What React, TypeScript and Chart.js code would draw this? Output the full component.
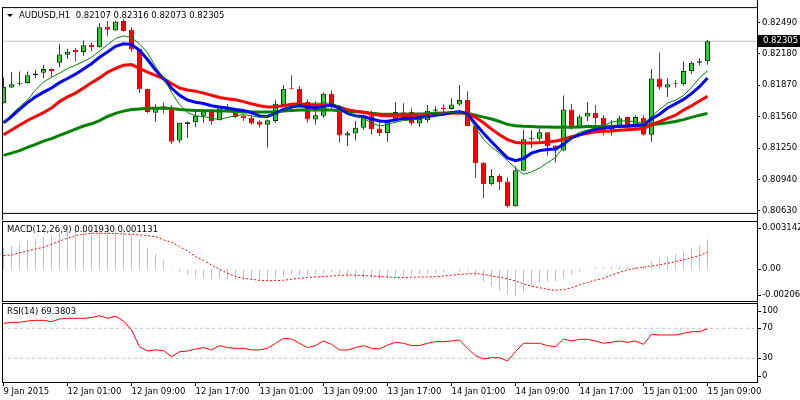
import React, { useEffect, useRef } from 'react';
import { Chart, registerables } from 'chart.js';
Chart.register(...registerables);

// ---------------- DATA ----------------
const symbolTitle = 'AUDUSD,H1';
const opens = [0.81693,0.81849,0.81884,0.81893,0.81968,0.81993,0.82031,0.82093,0.82171,0.82221,
0.82199,0.82268,0.82246,0.82448,0.82411,0.82505,0.82418,0.82230,0.81837,0.81600,
0.81662,0.81643,0.81325,0.81487,0.81506,0.81568,0.81619,0.81525,0.81656,0.81619,
0.81568,0.81549,0.81512,0.81481,0.81518,0.81675,0.81837,0.81837,0.81706,0.81531,
0.81568,0.81787,0.81668,0.81375,0.81394,0.81450,0.81575,0.81443,0.81399,0.81512,
0.81606,0.81606,0.81493,0.81525,0.81619,0.81643,0.81637,0.81680,0.81724,0.81469,
0.81106,0.80894,0.80975,0.80919,0.80675,0.81025,0.81338,0.81343,0.81406,0.81275,
0.81225,0.81631,0.81456,0.81562,0.81600,0.81549,0.81431,0.81462,0.81556,0.81469,
0.81549,0.81381,0.81937,0.81849,0.81886,0.81881,0.82012,0.82093,0.82107];
const highs = [0.81949,0.81999,0.82005,0.82005,0.82024,0.82074,0.82035,0.82274,0.82230,0.82240,
0.82312,0.82293,0.82483,0.82505,0.82505,0.82521,0.82443,0.82230,0.81837,0.81680,
0.81699,0.81675,0.81500,0.81512,0.81612,0.81631,0.81622,0.81656,0.81687,0.81631,
0.81575,0.81581,0.81525,0.81531,0.81724,0.81874,0.81968,0.81862,0.81731,0.81712,
0.81799,0.81818,0.81675,0.81418,0.81518,0.81581,0.81619,0.81531,0.81531,0.81706,
0.81693,0.81643,0.81600,0.81675,0.81662,0.81680,0.81743,0.81874,0.81812,0.81469,
0.81113,0.81044,0.80994,0.80963,0.81069,0.81431,0.81425,0.81443,0.81406,0.81275,
0.81768,0.81687,0.81581,0.81706,0.81675,0.81575,0.81525,0.81568,0.81556,0.81575,
0.81575,0.82031,0.82193,0.81937,0.81924,0.82106,0.82106,0.82137,0.82316];
const lows = [0.81690,0.81843,0.81865,0.81886,0.81943,0.81943,0.81949,0.82049,0.82130,0.82106,
0.82162,0.82205,0.82240,0.82355,0.82405,0.82400,0.82199,0.81793,0.81593,0.81512,
0.81593,0.81287,0.81300,0.81350,0.81456,0.81500,0.81481,0.81525,0.81600,0.81544,
0.81518,0.81481,0.81456,0.81256,0.81500,0.81662,0.81830,0.81680,0.81500,0.81481,
0.81549,0.81619,0.81306,0.81268,0.81325,0.81431,0.81381,0.81369,0.81312,0.81506,
0.81556,0.81474,0.81456,0.81500,0.81581,0.81600,0.81631,0.81668,0.81469,0.80956,
0.80757,0.80882,0.80837,0.80663,0.80670,0.81025,0.81250,0.81312,0.81175,0.81106,
0.81219,0.81431,0.81443,0.81518,0.81462,0.81375,0.81375,0.81443,0.81437,0.81450,
0.81375,0.81312,0.81825,0.81755,0.81849,0.81868,0.81980,0.82068,0.82073];
const closes = [0.81856,0.81881,0.81893,0.81968,0.81987,0.82031,0.82012,0.82174,0.82202,0.82199,
0.82265,0.82246,0.82443,0.82418,0.82499,0.82405,0.82224,0.81830,0.81606,0.81656,
0.81637,0.81312,0.81500,0.81506,0.81568,0.81619,0.81518,0.81656,0.81612,0.81556,
0.81544,0.81493,0.81481,0.81525,0.81687,0.81837,0.81830,0.81687,0.81531,0.81575,
0.81787,0.81656,0.81375,0.81397,0.81450,0.81568,0.81437,0.81399,0.81512,0.81606,
0.81600,0.81493,0.81537,0.81619,0.81631,0.81637,0.81680,0.81724,0.81469,0.81100,
0.80894,0.80975,0.80912,0.80675,0.81031,0.81338,0.81343,0.81406,0.81268,0.81225,
0.81631,0.81462,0.81562,0.81600,0.81544,0.81425,0.81462,0.81544,0.81462,0.81556,
0.81381,0.81937,0.81849,0.81881,0.81881,0.82012,0.82093,0.82107,0.82305];

// moving averages
const maFastThin = [0.81500,0.81584,0.81656,0.81724,0.81824,0.81902,0.81949,0.81990,0.82037,0.82068,
0.82105,0.82146,0.82208,0.82271,0.82333,0.82358,0.82339,0.82280,0.82193,0.82052,
0.81943,0.81802,0.81678,0.81600,0.81568,0.81562,0.81543,0.81531,0.81553,0.81568,
0.81581,0.81568,0.81553,0.81562,0.81584,0.81625,0.81662,0.81687,0.81693,0.81693,
0.81693,0.81696,0.81662,0.81606,0.81562,0.81543,0.81500,0.81468,0.81481,0.81506,
0.81522,0.81528,0.81537,0.81562,0.81581,0.81593,0.81603,0.81609,0.81568,0.81459,
0.81334,0.81262,0.81200,0.81125,0.81053,0.80991,0.81013,0.81053,0.81106,0.81156,
0.81262,0.81356,0.81406,0.81428,0.81450,0.81475,0.81506,0.81518,0.81518,0.81512,
0.81490,0.81562,0.81631,0.81693,0.81724,0.81768,0.81849,0.81943,0.82012];
const maBlue = [0.81500,0.81562,0.81631,0.81699,0.81756,0.81802,0.81843,0.81896,0.81937,0.81980,
0.82030,0.82083,0.82146,0.82199,0.82255,0.82280,0.82274,0.82215,0.82124,0.82021,
0.81937,0.81843,0.81771,0.81724,0.81703,0.81690,0.81668,0.81656,0.81646,0.81631,
0.81621,0.81600,0.81568,0.81562,0.81593,0.81631,0.81656,0.81668,0.81656,0.81646,
0.81662,0.81674,0.81646,0.81593,0.81568,0.81562,0.81537,0.81518,0.81512,0.81531,
0.81543,0.81543,0.81550,0.81562,0.81575,0.81584,0.81600,0.81612,0.81584,0.81490,
0.81397,0.81312,0.81231,0.81153,0.81125,0.81147,0.81200,0.81225,0.81237,0.81240,
0.81287,0.81350,0.81381,0.81412,0.81437,0.81447,0.81456,0.81465,0.81468,0.81475,
0.81481,0.81537,0.81584,0.81646,0.81687,0.81731,0.81787,0.81856,0.81943];
const maRed = [0.81381,0.81428,0.81475,0.81522,0.81562,0.81600,0.81646,0.81709,0.81756,0.81793,
0.81843,0.81896,0.81943,0.81999,0.82037,0.82068,0.82074,0.82037,0.81999,0.81968,
0.81937,0.81887,0.81843,0.81824,0.81812,0.81793,0.81771,0.81749,0.81737,0.81728,
0.81709,0.81687,0.81668,0.81656,0.81659,0.81668,0.81684,0.81687,0.81678,0.81671,
0.81674,0.81671,0.81653,0.81628,0.81615,0.81603,0.81587,0.81575,0.81568,0.81568,
0.81568,0.81568,0.81568,0.81571,0.81581,0.81590,0.81596,0.81600,0.81593,0.81553,
0.81500,0.81437,0.81381,0.81334,0.81306,0.81300,0.81300,0.81303,0.81309,0.81319,
0.81337,0.81362,0.81381,0.81397,0.81412,0.81415,0.81418,0.81425,0.81431,0.81437,
0.81443,0.81481,0.81512,0.81543,0.81575,0.81625,0.81668,0.81715,0.81762];
const maSlowGreen = [0.81178,0.81200,0.81225,0.81256,0.81287,0.81319,0.81344,0.81375,0.81406,0.81437,
0.81468,0.81490,0.81522,0.81562,0.81593,0.81615,0.81631,0.81637,0.81643,0.81643,
0.81643,0.81640,0.81631,0.81625,0.81621,0.81618,0.81618,0.81615,0.81615,0.81612,
0.81606,0.81606,0.81606,0.81606,0.81609,0.81615,0.81621,0.81625,0.81625,0.81625,
0.81628,0.81625,0.81618,0.81612,0.81609,0.81603,0.81593,0.81587,0.81584,0.81584,
0.81584,0.81587,0.81587,0.81590,0.81593,0.81596,0.81600,0.81600,0.81593,0.81575,
0.81556,0.81537,0.81512,0.81484,0.81471,0.81465,0.81462,0.81459,0.81459,0.81456,
0.81456,0.81456,0.81459,0.81462,0.81462,0.81462,0.81465,0.81465,0.81465,0.81468,
0.81468,0.81481,0.81490,0.81500,0.81512,0.81531,0.81553,0.81575,0.81593];

// MACD(12,26,9)
const macdMain = [0.00137,0.00152,0.00169,0.00191,0.00197,0.00212,0.00223,0.00240,0.00249,0.00256,
0.00262,0.00267,0.00271,0.00274,0.00267,0.00256,0.00223,0.00197,0.00141,0.00097,
0.00061,0.00006,-0.00016,-0.00037,-0.00048,-0.00055,-0.00065,-0.00059,-0.00063,-0.00065,
-0.00070,-0.00072,-0.00076,-0.00072,-0.00063,-0.00048,-0.00033,-0.00037,-0.00042,-0.00033,
-0.00026,-0.00020,-0.00037,-0.00055,-0.00059,-0.00059,-0.00055,-0.00063,-0.00059,-0.00048,
-0.00048,-0.00037,-0.00033,-0.00026,-0.00026,-0.00020,-0.00007,-0.00016,-0.00011,-0.00042,
-0.00081,-0.00113,-0.00142,-0.00167,-0.00178,-0.00150,-0.00113,-0.00092,-0.00081,-0.00076,
-0.00055,-0.00037,-0.00016,-0.00002,0.00014,0.00014,0.00018,0.00018,0.00018,0.00018,
0.00024,0.00050,0.00076,0.00083,0.00098,0.00115,0.00137,0.00158,0.001930];
const macdSignal = [0.00089,0.00093,0.00108,0.00119,0.00132,0.00143,0.00163,0.00184,0.00202,0.00219,
0.00228,0.00234,0.00234,0.00234,0.00232,0.00230,0.00228,0.00224,0.00219,0.00212,
0.00191,0.00176,0.00147,0.00119,0.00082,0.00056,0.00028,0.00000,-0.00026,-0.00048,
-0.00059,-0.00065,-0.00072,-0.00074,-0.00074,-0.00072,-0.00065,-0.00059,-0.00054,-0.00050,
-0.00048,-0.00044,-0.00041,-0.00037,-0.00039,-0.00041,-0.00044,-0.00048,-0.00050,-0.00054,
-0.00054,-0.00052,-0.00050,-0.00050,-0.00048,-0.00044,-0.00039,-0.00033,-0.00030,-0.00028,
-0.00033,-0.00044,-0.00052,-0.00063,-0.00076,-0.00096,-0.00109,-0.00120,-0.00131,-0.00137,
-0.00133,-0.00120,-0.00102,-0.00087,-0.00070,-0.00059,-0.00037,-0.00020,-0.00004,0.00006,
0.00013,0.00022,0.00028,0.00039,0.00050,0.00061,0.00076,0.00089,0.001131];

// RSI(14)
const rsiValues = [76.6,78.0,78.0,79.7,80.6,80.6,78.8,82.4,83.3,83.3,
83.3,84.2,86.8,83.3,86.0,79.7,67.7,45.5,39.7,41.1,
40.2,32.2,38.8,39.7,42.4,44.2,41.1,46.9,44.2,43.3,
43.3,41.1,41.1,43.3,50.0,56.6,55.7,50.0,44.2,46.9,
53.1,48.6,41.1,41.1,44.2,46.9,43.3,42.4,47.7,51.3,
50.0,46.9,46.9,50.0,52.2,52.2,53.1,54.4,43.3,33.5,
29.1,30.8,30.8,26.4,38.8,50.0,50.0,50.0,46.9,45.5,
55.7,53.1,55.3,55.3,53.1,50.0,51.3,53.1,51.3,53.1,
48.6,62.0,61.1,61.1,61.1,63.3,65.5,65.5,69.3803];
const rsiLevels = [70, 30];

// axes
const priceTicks = [0.82490, 0.82180, 0.81870, 0.81560, 0.81250, 0.80940, 0.80630];
const timeTickIndex = [0, 8, 16, 24, 32, 40, 48, 56, 64, 72, 80, 88];
const timeTickLabels = ['9 Jan 2015', '12 Jan 01:00', '12 Jan 09:00', '12 Jan 17:00', '13 Jan 01:00',
  '13 Jan 09:00', '13 Jan 17:00', '14 Jan 01:00', '14 Jan 09:00', '14 Jan 17:00', '15 Jan 01:00', '15 Jan 09:00'];
const PRICE_MIN = 0.80610, PRICE_MAX = 0.82642;
const MACD_MIN = -0.002067, MACD_MAX = 0.003142;
const RSI_MIN = -1.6, RSI_MAX = 103.7;
const X_MIN = -0.1875, X_MAX = 94.1875;

// ---------------- STYLE ----------------
const FAMILY = '"DejaVu Sans", sans-serif';
const FSIZE = 8.5;
const CFONT = `${FSIZE}px ${FAMILY}`;
const BULL_FILL = '#32CD32', BULL_EDGE = '#003000', BULL_WICK = '#006400';
const BEAR_FILL = '#FF0000', BEAR_EDGE = '#E00000', BEAR_WICK = '#B22222';
const AXIS_W = 43;

type PanelLabel = { value: number; text: string; dy: number };
type PanelCfg = {
  title: string;
  triangle?: boolean;
  labels?: PanelLabel[];
  priceBox?: number;
  lineFromTop?: boolean;
  lineToBottom?: boolean;
};

function makePanelPlugin(cfg: PanelCfg) {
  return {
    id: 'mt4Panel',
    afterDraw(chart: any) {
      const ctx = chart.ctx as CanvasRenderingContext2D;
      const a = chart.chartArea;
      const ys = chart.scales.y;
      ctx.save();
      ctx.strokeStyle = '#000';
      ctx.lineWidth = 1;
      ctx.strokeRect(a.left + 0.5, a.top + 0.5, a.right - a.left, a.bottom - a.top);
      ctx.beginPath();
      const y0 = cfg.lineFromTop ? 0 : a.top;
      const y1 = cfg.lineToBottom ? chart.height : a.bottom + 1;
      ctx.moveTo(a.right + 0.5, y0); ctx.lineTo(a.right + 0.5, y1);
      ctx.moveTo(a.left + 0.5, a.top); ctx.lineTo(a.left + 0.5, y1);
      ctx.stroke();

      ctx.font = CFONT;
      ctx.textBaseline = 'middle';
      ctx.textAlign = 'left';
      ctx.fillStyle = '#000';
      let tx = a.left + 5;
      if (cfg.triangle) {
        ctx.beginPath();
        ctx.moveTo(a.left + 5, a.top + 7);
        ctx.lineTo(a.left + 11, a.top + 7);
        ctx.lineTo(a.left + 8, a.top + 10);
        ctx.closePath();
        ctx.fill();
        tx = a.left + 17;
      }
      ctx.fillText(cfg.title, tx, a.top + 9);

      for (const l of cfg.labels || []) {
        const py = Math.round(ys.getPixelForValue(l.value) + l.dy);
        ctx.fillText(l.text, a.right + 5, py);
        ctx.beginPath();
        ctx.moveTo(a.right + 1, py + 0.5);
        ctx.lineTo(a.right + 4, py + 0.5);
        ctx.stroke();
      }

      if (cfg.priceBox !== undefined) {
        const py = ys.getPixelForValue(cfg.priceBox);
        ctx.fillStyle = '#000';
        ctx.fillRect(a.right + 1, Math.round(py - 6), chart.width - a.right - 1, 12);
        ctx.fillStyle = '#fff';
        ctx.fillText(cfg.priceBox.toFixed(5), a.right + 6, py);
      }
      ctx.restore();
    },
  };
}

const hiddenX = { type: 'linear', min: X_MIN, max: X_MAX, offset: false, display: false };
const sideY = (min: number, max: number) => ({
  type: 'linear', position: 'right', min, max,
  ticks: { display: false }, grid: { display: false }, border: { display: false },
  afterFit: (s: any) => { s.width = AXIS_W; },
});
const common = {
  responsive: false, animation: false, devicePixelRatio: 1, events: [],
  plugins: { legend: { display: false }, tooltip: { enabled: false } },
};
const lineDs = (data: number[], color: string, width: number, order: number, dash?: number[]) => ({
  type: 'line', data: data.map((v, i) => ({ x: i, y: v })), borderColor: color, borderWidth: width,
  pointRadius: 0, tension: 0, order, borderDash: dash || [], spanGaps: true,
});

export default function App() {
  const mainRef = useRef<HTMLCanvasElement>(null);
  const macdRef = useRef<HTMLCanvasElement>(null);
  const rsiRef = useRef<HTMLCanvasElement>(null);

  useEffect(() => {
    const charts: Chart[] = [];
    const n = opens.length;
    const idx = Array.from({ length: n }, (_, i) => i);
    const bull = idx.map(i => closes[i] >= opens[i]);
    const last = closes[n - 1];

    charts.push(new Chart(mainRef.current!, {
      type: 'bar',
      data: {
        datasets: [
          { type: 'line', data: [{ x: X_MIN, y: last }, { x: X_MAX, y: last }], borderColor: '#C0C0C0', borderWidth: 1, pointRadius: 0, order: 10 },
          { type: 'bar', data: idx.map(i => ({ x: i, y: [lows[i], highs[i]] })), backgroundColor: bull.map(b => b ? BULL_WICK : BEAR_WICK),
            borderWidth: 0, barThickness: 1, grouped: false, inflateAmount: 0, order: 9 },
          { type: 'bar', data: idx.map(i => ({ x: i, y: [opens[i], closes[i]] })), backgroundColor: bull.map(b => b ? BULL_FILL : BEAR_FILL),
            borderColor: bull.map(b => b ? BULL_EDGE : BEAR_EDGE), borderWidth: 1, borderSkipped: false, barThickness: 5,
            grouped: false, inflateAmount: 0, minBarLength: 1, order: 8 },
          lineDs(maSlowGreen, '#008000', 3, 4),
          lineDs(maRed, '#FF0000', 3, 3),
          lineDs(maBlue, '#0000FF', 3, 2),
          lineDs(maFastThin, '#008000', 1, 1),
        ] as any,
      },
      options: {
        ...common,
        layout: { padding: { left: 2, top: 2, right: 0, bottom: 1 } },
        scales: {
          x: hiddenX,
          y: {
            type: 'linear', position: 'right', min: PRICE_MIN, max: PRICE_MAX,
            afterBuildTicks: (s: any) => { s.ticks = priceTicks.map(v => ({ value: v })); },
            afterFit: (s: any) => { s.width = AXIS_W; },
            ticks: { autoSkip: false, padding: 2, color: '#000', font: { family: FAMILY, size: FSIZE },
              callback: (v: any) => Number(v).toFixed(5) },
            grid: { drawOnChartArea: false, drawTicks: true, tickLength: 3, color: '#000' },
            border: { display: false },
          },
        },
      } as any,
      plugins: [makePanelPlugin({
        title: `${symbolTitle}  ${opens[n - 1].toFixed(5)} ${highs[n - 1].toFixed(5)} ${lows[n - 1].toFixed(5)} ${closes[n - 1].toFixed(5)}`,
        triangle: true, priceBox: last, lineFromTop: true, lineToBottom: true,
      })],
    }));

    charts.push(new Chart(macdRef.current!, {
      type: 'bar',
      data: {
        datasets: [
          { type: 'bar', data: idx.map(i => ({ x: i, y: macdMain[i] })), backgroundColor: '#C0C0C0', borderWidth: 0,
            barThickness: 1, grouped: false, inflateAmount: 0, order: 5 },
          lineDs(macdSignal, '#FF0000', 1, 1, [2, 2]),
        ] as any,
      },
      options: {
        ...common,
        layout: { padding: { left: 2, top: 1, right: 0, bottom: 1 } },
        scales: { x: hiddenX, y: sideY(MACD_MIN, MACD_MAX) },
      } as any,
      plugins: [makePanelPlugin({
        title: `MACD(12,26,9) ${macdMain[n - 1].toFixed(6)} ${macdSignal[n - 1].toFixed(6)}`,
        labels: [
          { value: MACD_MAX, text: MACD_MAX.toFixed(6), dy: 7 },
          { value: 0, text: '0.00', dy: 0 },
          { value: MACD_MIN, text: MACD_MIN.toFixed(6), dy: -6 },
        ],
        lineFromTop: true, lineToBottom: true,
      })],
    }));

    charts.push(new Chart(rsiRef.current!, {
      type: 'line',
      data: {
        datasets: [
          ...rsiLevels.map(l => ({ type: 'line', data: [{ x: X_MIN, y: l }, { x: X_MAX, y: l }], borderColor: '#C0C0C0',
            borderWidth: 1, borderDash: [3, 3], pointRadius: 0, order: 5 })),
          lineDs(rsiValues, '#FF0000', 1, 1),
        ] as any,
      },
      options: {
        ...common,
        layout: { padding: { left: 2, top: 1, right: 0, bottom: 0 } },
        scales: {
          x: {
            type: 'linear', min: X_MIN, max: X_MAX, offset: false,
            afterBuildTicks: (s: any) => { s.ticks = timeTickIndex.map(v => ({ value: v })); },
            afterFit: (s: any) => { s.height = 18; },
            ticks: { autoSkip: false, maxRotation: 0, align: 'start', padding: 1, color: '#000',
              font: { family: FAMILY, size: FSIZE },
              callback: (v: any) => { const k = timeTickIndex.indexOf(Number(v)); return k >= 0 ? timeTickLabels[k] : ''; } },
            grid: { drawOnChartArea: false, drawTicks: true, tickLength: 4, color: '#000' },
            border: { display: false },
          },
          y: sideY(RSI_MIN, RSI_MAX),
        },
      } as any,
      plugins: [makePanelPlugin({
        title: `RSI(14) ${rsiValues[n - 1].toFixed(4)}`,
        labels: [
          { value: 100, text: '100', dy: 5 },
          { value: 70, text: '70', dy: 0 },
          { value: 30, text: '30', dy: 0 },
          { value: 0, text: '0', dy: -5 },
        ],
        lineFromTop: true, lineToBottom: false,
      })],
    }));

    return () => charts.forEach(c => c.destroy());
  }, []);

  return (
    <div style={{ position: 'absolute', left: 0, top: 0, width: 800, height: 400, background: '#fff', overflow: 'hidden' }}>
      <canvas ref={mainRef} width={800} height={220} style={{ position: 'absolute', left: 0, top: 0 }} />
      <canvas ref={macdRef} width={800} height={82} style={{ position: 'absolute', left: 0, top: 220 }} />
      <canvas ref={rsiRef} width={800} height={98} style={{ position: 'absolute', left: 0, top: 302 }} />
    </div>
  );
}
